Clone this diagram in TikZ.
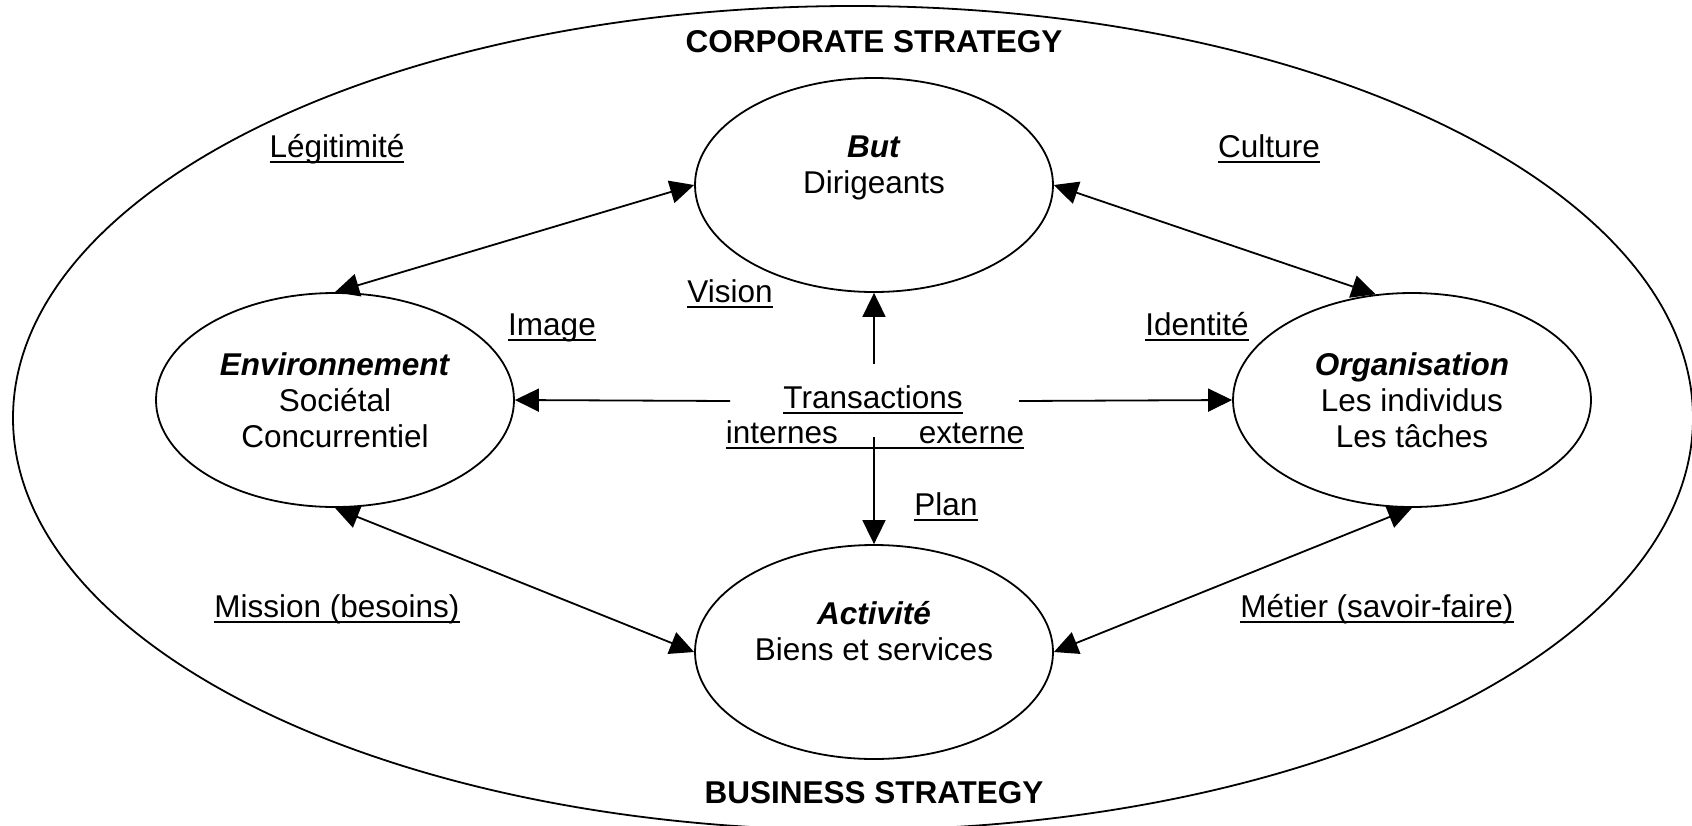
\documentclass[tikz,border=0pt]{standalone}
\usepackage{fontspec}
\setmainfont{Liberation Sans}
\usetikzlibrary{shapes.geometric,arrows.meta}
\newlength\ulw
\newcommand\myul[1]{\settowidth\ulw{#1}\rlap{\rule[-3pt]{\ulw}{1pt}}#1}
\begin{document}
\begin{tikzpicture}[x=0.5pt,y=-0.5pt,line width=0.9pt,
  every node/.style={font=\fontsize{15.75}{18}\selectfont},
  blob/.style={ellipse,draw,line width=0.9pt,minimum width=179pt,minimum height=107pt,inner sep=0pt,align=center},
  lbl/.style={anchor=base,inner sep=0pt},
  ttl/.style={anchor=base,inner sep=0pt,font=\fontsize{15.75}{18}\selectfont\bfseries},
  tip/.style={-{Triangle[length=12pt,width=11.5pt]}},
  dtip/.style={{Triangle[length=12pt,width=11.5pt]}-{Triangle[length=12pt,width=11.5pt]}}]
\useasboundingbox (0,0) rectangle (1692,825);
\clip (0,0) rectangle (1692,825);
% outer ellipse
\draw (853,418) ellipse [x radius=420pt, y radius=206pt];
\node[ttl] (corp) at (874,52) {CORPORATE STRATEGY};
\node[ttl] (bus) at (874,803) {BUSINESS STRATEGY};
% inner ellipses
\node[blob] (but) at (874,185) {\textbf{\textit{But}}\\Dirigeants\\\rule[-2pt]{0pt}{2pt}};
\node[blob] (act) at (874,652) {\textbf{\textit{Activité}}\\Biens et services\\\rule[-3pt]{0pt}{3pt}};
\node[blob] (env) at (335,400) {\textbf{\textit{Environnement}}\\Sociétal\\Concurrentiel};
\node[blob] (org) at (1412,400) {\textbf{\textit{Organisation}}\\Les individus\\Les tâches};
% labels
\node[lbl] (leg) at (337,157) {\myul{Légitimité}};
\node[lbl] (cul) at (1269,157) {\myul{Culture}};
\node[lbl] (vis) at (730,302) {\myul{Vision}};
\node[lbl] (img) at (552,335) {\myul{Image}};
\node[lbl] (ide) at (1197,335) {\myul{Identité}};
\node[lbl] (tra) at (873,408) {\myul{Transactions}};
\node[lbl] (intext) at (875,443) {\myul{internes\hspace{40.5pt}externe}};
\node[lbl] (pla) at (946,515) {\myul{Plan}};
\node[lbl] (mis) at (337,617) {\myul{Mission (besoins)}};
\node[lbl] (met) at (1377,617) {\myul{Métier (savoir-faire)}};
% free ends of central arrows
\coordinate (cu) at (874,364);
\coordinate (cd) at (874,437);
\coordinate (cl) at (730,401);
\coordinate (cr) at (1019,401);
\draw[tip] (cu) -- (but.south);
\draw[tip] (cd) -- (act.north);
\draw[tip] (cl) -- (env.east);
\draw[tip] (cr) -- (org.west);
% diagonal double arrows
\draw[dtip] (env.north) -- (but.west);
\draw[dtip] (but.east) -- (org.109);
\draw[dtip] (env.south) -- (act.west);
\draw[dtip] (org.south) -- (act.east);
\end{tikzpicture}
\end{document}
